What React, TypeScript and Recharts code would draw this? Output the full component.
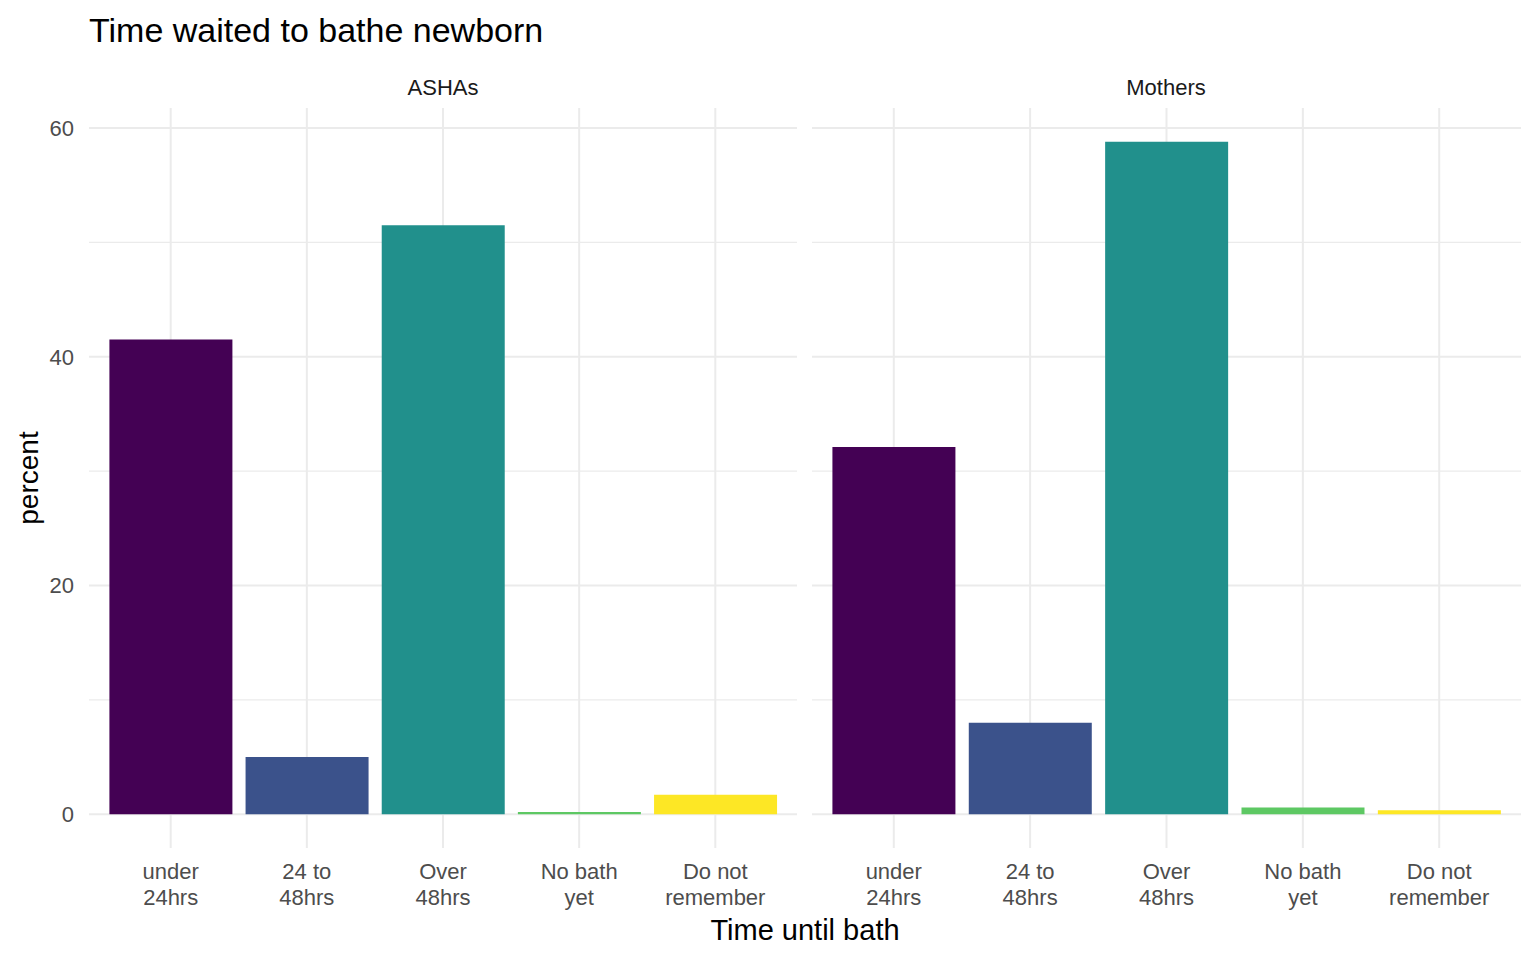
import React from 'react';
import { BarChart, Bar, XAxis, YAxis, CartesianGrid, Cell } from 'recharts';

// categories on the x axis (line breaks as in the original labels)
const categories = ['under\n24hrs', '24 to\n48hrs', 'Over\n48hrs', 'No bath\nyet', 'Do not\nremember'];
// percent per category
const ashasValues = [41.5, 5.0, 51.5, 0.2, 1.7];
const mothersValues = [32.1, 8.0, 58.8, 0.6, 0.35];
// viridis, 5 steps
const barColors = ['#440154', '#3B528B', '#21908C', '#5DC863', '#FDE725'];
const yTicks = [0, 20, 40, 60];
const yMinor = [10, 30, 50];

const FONT = '"Liberation Sans", Arial, sans-serif';
const GRID = '#EBEBEB';

const toRows = (values: number[]) =>
  categories.map((name, i) => ({ name, value: values[i] }));

function TwoLineTick(props: any) {
  const { x, y, payload } = props;
  const lines = String(payload.value).split('\n');
  return (
    <g>
      {lines.map((line, i) => (
        <text
          key={i}
          x={x}
          y={y + 31 + i * 26}
          textAnchor="middle"
          fill="#4D4D4D"
          fontSize={22}
          fontFamily={FONT}
        >
          {line}
        </text>
      ))}
    </g>
  );
}

function Panel({ values, width, showY }: { values: number[]; width: number; showY: boolean }) {
  return (
    <BarChart
      width={width}
      height={960}
      data={toRows(values)}
      margin={{ top: 108, right: 0, bottom: 52, left: 0 }}
      barCategoryGap="5%"
    >
      <CartesianGrid
        vertical={false}
        horizontalValues={yMinor}
        syncWithTicks
        stroke={GRID}
        strokeWidth={1.2}
      />
      <CartesianGrid stroke={GRID} strokeWidth={2} syncWithTicks />
      <XAxis
        dataKey="name"
        axisLine={false}
        tickLine={false}
        tickSize={0}
        tickMargin={0}
        height={60}
        padding={{ left: 13.6, right: 13.6 }}
        interval={0}
        tick={<TwoLineTick />}
      />
      <YAxis
        hide={!showY}
        width={showY ? 89 : 0}
        domain={[-2.95, 61.75]}
        allowDataOverflow
        ticks={yTicks}
        axisLine={false}
        tickLine={false}
        tickSize={0}
        tickMargin={15}
        tick={{ fill: '#4D4D4D', fontSize: 22, fontFamily: FONT }}
      />
      <Bar dataKey="value" isAnimationActive={false}>
        {values.map((_, i) => (
          <Cell key={i} fill={barColors[i]} />
        ))}
      </Bar>
    </BarChart>
  );
}

export default function App() {
  return (
    <div style={{ position: 'absolute', left: 0, top: 0, width: 1536, height: 960, background: '#fff' }}>
      <div style={{ position: 'absolute', left: 0, top: 0 }}>
        <Panel values={ashasValues} width={797} showY />
      </div>
      <div style={{ position: 'absolute', left: 812, top: 0 }}>
        <Panel values={mothersValues} width={709} showY={false} />
      </div>
      <svg
        width={1536}
        height={960}
        style={{ position: 'absolute', left: 0, top: 0, pointerEvents: 'none' }}
        fontFamily={FONT}
      >
        <text x={89} y={42} fontSize={34} fill="#000">
          Time waited to bathe newborn
        </text>
        <text x={443} y={95} fontSize={22} fill="#1A1A1A" textAnchor="middle">
          ASHAs
        </text>
        <text x={1166} y={95} fontSize={22} fill="#1A1A1A" textAnchor="middle">
          Mothers
        </text>
        <text x={805} y={940} fontSize={29} fill="#000" textAnchor="middle">
          Time until bath
        </text>
        <text
          x={0}
          y={0}
          fontSize={28}
          fill="#000"
          textAnchor="middle"
          transform="translate(38 478) rotate(-90)"
        >
          percent
        </text>
      </svg>
    </div>
  );
}
